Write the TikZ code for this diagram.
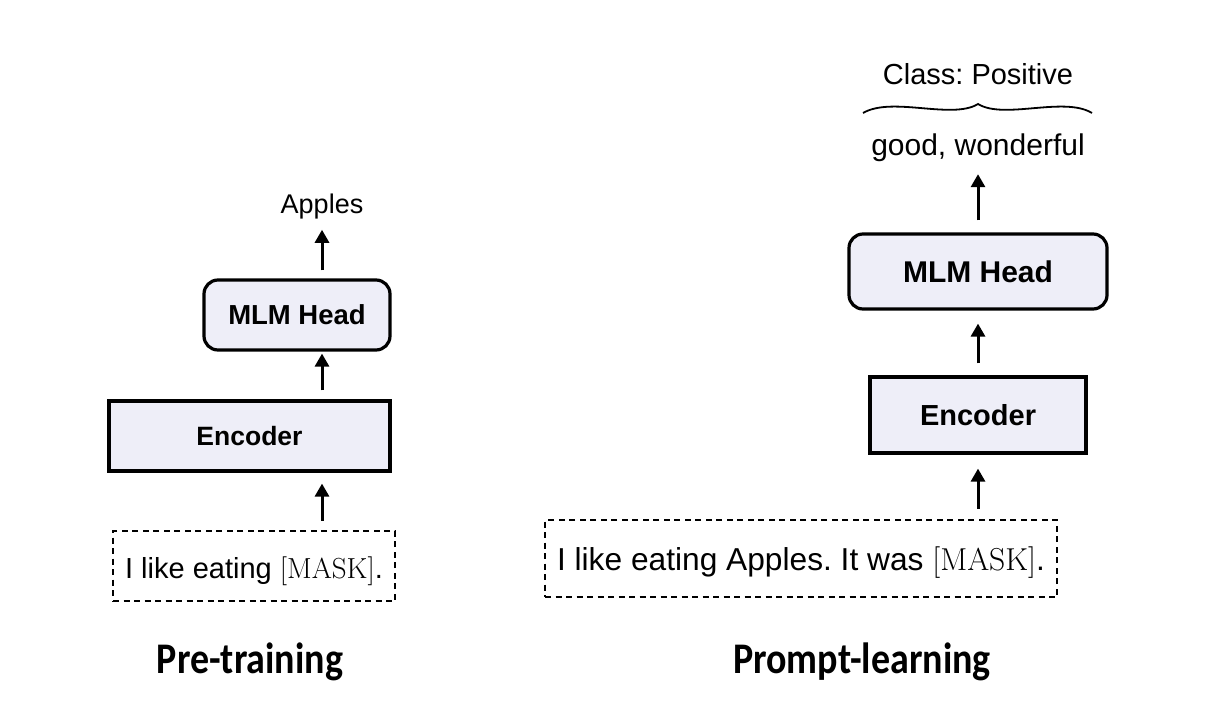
\documentclass[tikz,border=0pt]{standalone}
\usepackage{fontspec}
\setsansfont{Liberation Sans}
\newfontfamily\titlefont{Carlito}[BoldFont={* Bold}]
\usetikzlibrary{arrows.meta}
\definecolor{boxfill}{HTML}{EEEEF8}
\tikzset{
  blk/.style={draw=black, line width=3.2pt, fill=boxfill, inner sep=0pt, font=\sffamily\bfseries},
  roundblk/.style={blk, rounded corners=14pt},
  inbox/.style={draw=black, line width=2.8pt, dash pattern=on 6pt off 4.5pt, inner sep=0pt, text height=24pt, text depth=0pt},
  lbl/.style={inner sep=0pt, font=\sffamily},
  arr/.style={line width=3pt, -{Triangle[length=13pt,width=14pt]}},
  ttl/.style={inner sep=0pt, font=\titlefont\bfseries\fontsize{38}{44}\selectfont},
}
\begin{document}
\frenchspacing
\begin{tikzpicture}[x=1pt,y=-1pt]
\useasboundingbox[fill=white] (0,0) rectangle (1230,720);
% ---- left: pre-training
\node[lbl, font=\sffamily\fontsize{27}{32}\selectfont] (apples) at (322,207) {Apples};
\node[roundblk, minimum width=186pt, minimum height=70pt, font=\sffamily\bfseries\fontsize{27.5}{32}\selectfont] (lmlm) at (297,315) {MLM Head};
\node[blk, minimum width=281pt, minimum height=70pt, font=\sffamily\bfseries\fontsize{26.5}{30}\selectfont] (lenc) at (249.5,436) {Encoder};
\node[inbox, minimum width=282pt, minimum height=70pt, font=\sffamily\fontsize{29}{34}\selectfont] (lin) at (254,566) {I like eating {\rmfamily [MASK]}.};
\draw[arr, shorten <=9pt, shorten >=11pt] (lin.north -| apples) -- (lenc.south -| apples);
\draw[arr, shorten <=9pt, shorten >=2pt] (lenc.north -| apples) -- (lmlm.south -| apples);
\draw[arr, shorten <=8pt, shorten >=10pt] (lmlm.north -| apples) -- (apples.south);
\node[ttl] (pre) at (250,662) {\scalebox{1}[1.15]{Pre-training}};
% ---- right: prompt-learning
\node[lbl, font=\sffamily\fontsize{29}{34}\selectfont] (cls) at (978,74) {Class: Positive};
\coordinate (bl) at (863,113);
\coordinate (bt) at (978,104);
\coordinate (br) at (1092,113);
\draw[line width=1.8pt] (bl) .. controls (892,96) and (952,120) .. (bt)
                              .. controls (1004,120) and (1064,96) .. (br);
\node[lbl, font=\sffamily\fontsize{30}{36}\selectfont] (good) at (978,148) {good, wonderful};
\node[roundblk, minimum width=258pt, minimum height=75pt, font=\sffamily\bfseries\fontsize{30}{36}\selectfont] (rmlm) at (978,271.5) {MLM Head};
\node[blk, minimum width=216pt, minimum height=76pt, font=\sffamily\bfseries\fontsize{29}{34}\selectfont] (renc) at (978,415) {Encoder};
\node[inbox, minimum width=512pt, minimum height=77pt, font=\sffamily\fontsize{31.7}{36}\selectfont] (rin) at (801,558.5) {I like eating Apples. It was {\rmfamily [MASK]}.};
\draw[arr, shorten <=10pt, shorten >=14pt] (rin.north -| renc) -- (renc.south);
\draw[arr, shorten <=12pt, shorten >=13pt] (renc.north) -- (rmlm.south);
\draw[arr, shorten <=12pt, shorten >=12pt] (rmlm.north) -- (good.south);
\node[ttl] (prompt) at (862,662) {\scalebox{1}[1.15]{Prompt-learning}};
\end{tikzpicture}
\end{document}
